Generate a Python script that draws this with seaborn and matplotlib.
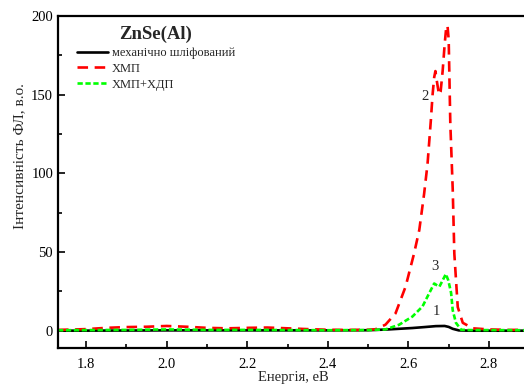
import numpy as np
import pandas as pd
import matplotlib
matplotlib.use("Agg")
import matplotlib.pyplot as plt
import seaborn as sns
from matplotlib.ticker import MultipleLocator

sns.set_theme(style="white")
plt.rcParams['font.family'] = ['Liberation Serif', 'DejaVu Serif']

# --- data ---
e_mech = [1.73, 1.90, 2.00, 2.20, 2.40, 2.50, 2.55, 2.61, 2.64, 2.668, 2.69, 2.70, 2.71, 2.725, 2.75, 2.90]
i_mech = [0.0, 0.1, 0.2, 0.2, 0.2, 0.3, 0.8, 1.7, 2.3, 2.9, 3.0, 2.4, 1.2, 0.2, 0.0, 0.0]

e_cmp = [1.73, 1.80, 1.85, 1.90, 1.95, 2.00, 2.05, 2.10, 2.15, 2.20, 2.25, 2.30, 2.35, 2.40, 2.45,
         2.50, 2.518, 2.543, 2.568, 2.593, 2.614, 2.627, 2.639, 2.6475, 2.6558, 2.66, 2.664, 2.667,
         2.671, 2.676, 2.68, 2.685, 2.69, 2.694, 2.697, 2.700, 2.704, 2.71, 2.714, 2.7225, 2.735,
         2.76, 2.80, 2.85, 2.90]
i_cmp = [0.5, 1.0, 1.8, 2.3, 2.5, 3.0, 2.5, 1.8, 1.5, 1.8, 2.0, 1.5, 1.0, 0.6, 0.5,
         0.6, 0.9, 3.8, 11, 28, 49, 64, 87, 106, 134, 150, 161, 165,
         158, 150, 152, 165, 182, 193, 194, 185, 132, 90, 49, 15, 5,
         1.5, 0.8, 0.5, 0.5]

e_cmp_cdp = [1.73, 1.90, 2.00, 2.10, 2.20, 2.30, 2.40, 2.50, 2.543, 2.577, 2.61, 2.635, 2.652,
             2.664, 2.67, 2.677, 2.685, 2.693, 2.699, 2.706, 2.71, 2.718, 2.731, 2.75, 2.90]
i_cmp_cdp = [0.3, 0.5, 0.8, 0.5, 0.5, 0.4, 0.3, 0.4, 0.8, 3.8, 9, 15.4, 24,
             30, 29, 28, 32, 36, 32, 24, 13, 5, 0.6, 0.4, 0.3]

labels = ["механічно шліфований", "ХМП", "ХМП+ХДП"]
colors = ["#000000", "#ff0000", "#00ff00"]
dashes = [None, (4, 2.5), (2, 1)]

x_ticks = [1.8, 2.0, 2.2, 2.4, 2.6, 2.8]
y_ticks = [0, 50, 100, 150, 200]

fig = plt.figure(figsize=(5.24, 3.85), dpi=100)
ax = fig.add_axes([58/524, 1-348/385, 1.01 - 58/524, (348-16)/385])

series = [(e_mech, i_mech), (e_cmp, i_cmp), (e_cmp_cdp, i_cmp_cdp)]
for (e, i), lab, c, d in zip(series, labels, colors, dashes):
    df = pd.DataFrame({"E": e, "I": i})
    sns.lineplot(data=df, x="E", y="I", ax=ax, color=c, linewidth=1.9, label=lab)
    ln = ax.get_lines()[-1]
    ln.set_solid_joinstyle('round')
    ln.set_dash_joinstyle('round')
    if d is not None:
        ln.set_dashes(d)

ax.set_xlim(1.73, 2.9)
ax.set_ylim(-11, 200)
ax.set_xticks(x_ticks)
ax.set_yticks(y_ticks)
ax.xaxis.set_minor_locator(MultipleLocator(0.1))
ax.yaxis.set_minor_locator(MultipleLocator(25))
ax.tick_params(which='both', direction='in', bottom=True, left=True, top=False, right=False,
               labelsize=10.5, width=1.2, colors='black')
ax.tick_params(axis='x', which='major', pad=7)
ax.tick_params(which='major', length=5)
ax.tick_params(which='minor', length=3)
for s in ['left', 'bottom', 'top']:
    ax.spines[s].set_linewidth(1.6)
    ax.spines[s].set_color('black')
ax.spines['right'].set_visible(False)

ax.set_xlabel("Енергія, еВ", fontsize=10.5, labelpad=0)
ax.set_ylabel("Інтенсивність ФЛ, в.о.", fontsize=11, labelpad=5)
ax.yaxis.set_label_coords(-0.067, (348-156)/332)

leg = ax.legend(loc='upper left', bbox_to_anchor=(0.03, 0.985), frameon=False,
                fontsize=9, handlelength=2.5, handletextpad=0.25, labelspacing=0.3,
                borderaxespad=0, title="ZnSe(Al)",
                title_fontproperties={'weight': 'bold', 'size': 13.5, 'family': 'Liberation Serif'})

ax.text(2.64, 149, "2", fontsize=10.5, ha='center', va='center')
ax.text(2.667, 41, "3", fontsize=10.5, ha='center', va='center')
ax.text(2.67, 12, "1", fontsize=10.5, ha='center', va='center')

fig.savefig("out.png", dpi=100)
